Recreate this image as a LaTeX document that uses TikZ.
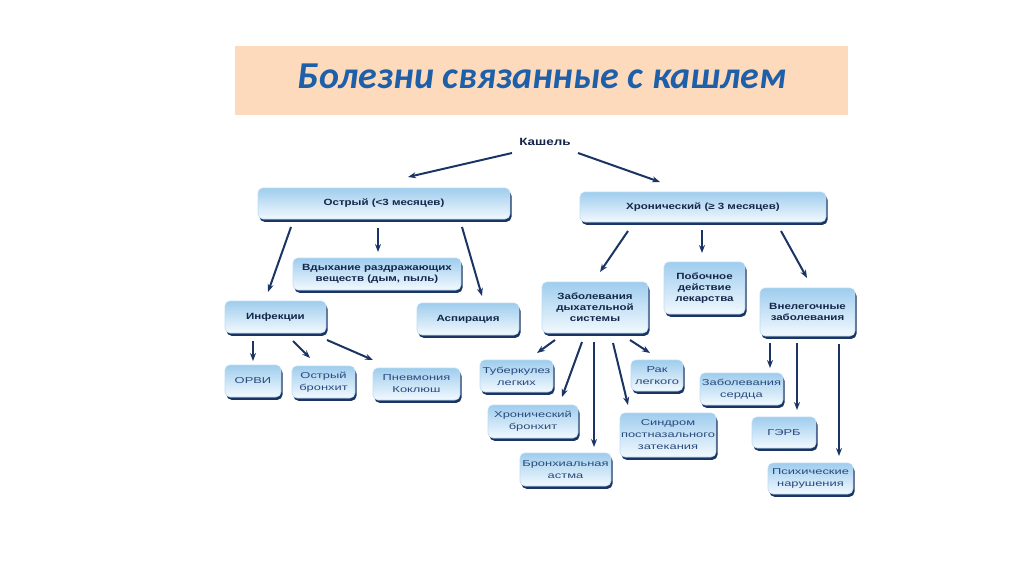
\documentclass[tikz,border=0pt]{standalone}
\usepackage{fontspec}
\setmainfont{Liberation Sans}
\newfontfamily\titlefont{Carlito}
\newfontfamily\bxfont[FakeStretch=1.28]{Liberation Sans}
\newfontfamily\lffont[FakeStretch=1.5]{Liberation Sans}
\usetikzlibrary{arrows.meta,shadows}
\definecolor{peach}{HTML}{FDDABC}
\definecolor{titleblue}{HTML}{1E5FAA}
\definecolor{navy}{HTML}{1A3563}
\definecolor{txt}{HTML}{14264A}
\definecolor{ltxt}{HTML}{2A4A7C}
\definecolor{lblue}{HTML}{9FCDEE}
\definecolor{wblue}{HTML}{F2F9FE}
\tikzset{
  bx/.style={rounded corners=5pt, inner sep=0pt, align=center, text=txt,
    top color=lblue, bottom color=wblue, draw=lblue!70, line width=0.6pt,
    drop shadow={shadow xshift=1.5pt, shadow yshift=-2.8pt, fill=navy, opacity=1},
    font=\bxfont\fontsize{9}{11}\selectfont\bfseries},
  lf/.style={bx, text=ltxt, font=\lffont\fontsize{8.6}{12}\selectfont},
  arr/.style={draw=navy, line width=2pt, -{Stealth[length=8pt,width=6pt]}}
}
\begin{document}
\begin{tikzpicture}[x=1pt,y=-1pt]
\useasboundingbox[fill=white] (0,0) rectangle (1024,574);
\node[fill=peach, minimum width=613pt, minimum height=69pt, inner sep=0pt] (title) at (541.5,80.5) {};
\node[text=titleblue, font=\titlefont\fontsize{38}{42}\selectfont\bfseries\itshape] (tt) at (542,76) {Болезни связанные с кашлем};

\node[text=txt, font=\bxfont\fontsize{10.5}{12}\selectfont\bfseries] (kash) at (545,142) {Кашель};

\node[bx, minimum width=252pt, minimum height=31pt] (ost) at (384,203.5) {Острый (<3 месяцев)};
\node[bx, minimum width=246pt, minimum height=30pt] (hron) at (703,207) {Хронический (≥ 3 месяцев)};

\node[bx, minimum width=168pt, minimum height=32pt] (vdy) at (377,274) {Вдыхание раздражающих\\веществ (дым, пыль)};
\node[bx, minimum width=101pt, minimum height=32pt] (inf) at (275.5,317) {Инфекции};
\node[bx, minimum width=102pt, minimum height=32pt] (asp) at (468,319) {Аспирация};

\node[lf, minimum width=56pt, minimum height=32pt] (orvi) at (253,381) {ОРВИ};
\node[lf, minimum width=63pt, minimum height=32pt] (ob) at (323.5,382) {Острый\\бронхит};
\node[lf, minimum width=87pt, minimum height=32pt] (pk) at (416.5,384) {Пневмония\\Коклюш};

\node[bx, minimum width=106pt, minimum height=51pt] (zds) at (595,307.5) {Заболевания\\дыхательной\\системы};
\node[bx, minimum width=81pt, minimum height=52pt] (pob) at (704.5,288) {Побочное\\действие\\лекарства};
\node[bx, minimum width=95pt, minimum height=48pt] (vnl) at (807.5,312) {Внелегочные\\заболевания};

\node[lf, minimum width=73pt, minimum height=32pt] (tub) at (516.5,376) {Туберкулез\\легких};
\node[lf, minimum width=52pt, minimum height=31pt] (rak) at (657,375.5) {Рак\\легкого};
\node[lf, minimum width=90pt, minimum height=33pt] (hb) at (533,421.5) {Хронический\\бронхит};
\node[lf, minimum width=96pt, minimum height=44pt] (sin) at (668,435) {Синдром\\постназального\\затекания};
\node[lf, minimum width=91pt, minimum height=33pt] (ba) at (565.5,469.5) {Бронхиальная\\астма};

\node[lf, minimum width=83pt, minimum height=32pt] (zs) at (741.5,389) {Заболевания\\сердца};
\node[lf, minimum width=64pt, minimum height=31pt] (gerb) at (784,432.5) {ГЭРБ};
\node[lf, minimum width=85pt, minimum height=31pt] (psy) at (810.5,478.5) {Психические\\нарушения};

\draw[arr] ([shift={(-33,11)}]kash.center) -- ([shift={(24,-26.5)}]ost.center);
\draw[arr] ([shift={(33,11)}]kash.center) -- ([shift={(-43,-25)}]hron.center);

\draw[arr] ([shift={(-93,23.5)}]ost.center) -- ([shift={(-7.5,-25)}]inf.center);
\draw[arr] ([shift={(-6,24.5)}]ost.center) -- ([shift={(1,-22)}]vdy.center);
\draw[arr] ([shift={(78,23.5)}]ost.center) -- ([shift={(14,-23)}]asp.center);

\draw[arr] ([shift={(-22.5,24)}]inf.center) -- ([shift={(0,-20)}]orvi.center);
\draw[arr] ([shift={(17.5,24)}]inf.center) -- ([shift={(-13.5,-24)}]ob.center);
\draw[arr] ([shift={(51.5,23)}]inf.center) -- ([shift={(-43.5,-24)}]pk.center);

\draw[arr] ([shift={(-75,24)}]hron.center) -- ([shift={(5,-35.5)}]zds.center);
\draw[arr] ([shift={(-1,23)}]hron.center) -- ([shift={(-2.5,-35)}]pob.center);
\draw[arr] ([shift={(78,24)}]hron.center) -- ([shift={(-0.5,-34)}]vnl.center);

\draw[arr] ([shift={(-40,32.5)}]zds.center) -- ([shift={(20.5,-23)}]tub.center);
\draw[arr] ([shift={(-13,34.5)}]zds.center) -- ([shift={(29,-24.5)}]hb.center);
\draw[arr] ([shift={(-1,34.5)}]zds.center) -- ([shift={(28.5,-22.5)}]ba.center);
\draw[arr] ([shift={(18,35.5)}]zds.center) -- ([shift={(-40,-30)}]sin.center);
\draw[arr] ([shift={(35,32.5)}]zds.center) -- ([shift={(-7,-22.5)}]rak.center);

\draw[arr] ([shift={(-37.5,31)}]vnl.center) -- ([shift={(28.5,-21)}]zs.center);
\draw[arr] ([shift={(-10.5,31)}]vnl.center) -- ([shift={(13,-22.5)}]gerb.center);
\draw[arr] ([shift={(31.5,32)}]vnl.center) -- ([shift={(28.5,-22.5)}]psy.center);
\end{tikzpicture}
\end{document}
